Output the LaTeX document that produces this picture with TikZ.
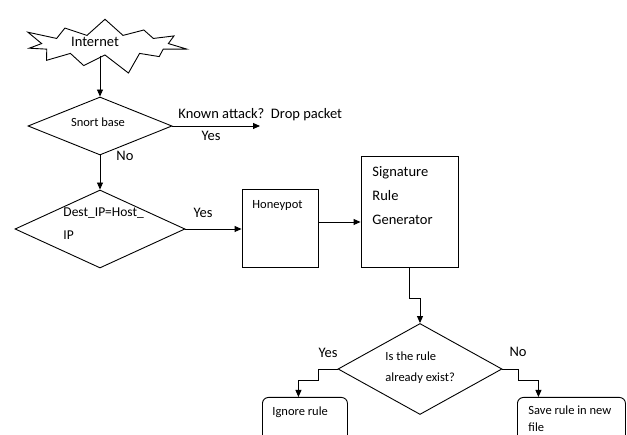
\documentclass[tikz,border=0pt]{standalone}
\usepackage{fontspec}
\setmainfont{Carlito}
\usetikzlibrary{shapes.geometric,shapes.symbols,arrows.meta}

\begin{document}
\begin{tikzpicture}[x=1pt,y=-1pt,line width=0.9pt,
  >={Triangle[length=7pt,width=6pt]},
  decision/.style={draw,diamond,inner sep=0pt},
  box/.style={draw,rectangle,inner sep=0pt},
  smalltxt/.style={inner sep=0pt,align=left,font=\fontsize{12.5}{22}\selectfont},
  bigtxt/.style={inner sep=0pt,align=left,font=\fontsize{14.5}{24}\selectfont}]
             \useasboundingbox (0,0) rectangle (627,435);
             \clip (0,0) rectangle (627,435);

             \node[draw,starburst,starburst points=11,starburst point height=22pt,
                   minimum width=172pt,minimum height=64pt,inner sep=0pt] (internet) at (105,45) {};
             \node[bigtxt] (internettxt) at (95,42) {Internet};

             \node[decision,minimum width=144pt,minimum height=58pt] (snort) at (100,126) {};
             \node[smalltxt] (snorttxt) at (98,122) {Snort base};
             \coordinate (drop) at (260,126);
             \node[bigtxt,anchor=west] (droptxt) at (178,115) {Known attack?\ \ Drop packet};
             \node[bigtxt] (yes1) at (211,136) {Yes};
             \node[bigtxt] (no1) at (125,156) {No};

             \node[decision,minimum width=170pt,minimum height=78pt] (dest) at (100,229) {};
             \node[smalltxt,anchor=west,font=\fontsize{13.5}{23}\selectfont] (desttxt) at (63,223.5) {Dest\_IP=Host\_\\IP};
             \node[bigtxt] (yes2) at (203,213) {Yes};

             \node[box,minimum width=76pt,minimum height=78pt] (honey) at (280,228) {};
             \node[smalltxt,anchor=west] (honeytxt) at (252,205) {Honeypot};

             \node[box,minimum width=97pt,minimum height=111pt] (sig) at (409.5,211.5) {};
             \node[bigtxt,anchor=west] (sigtxt) at (372,196) {Signature\\Rule\\Generator};

             \node[decision,minimum width=164pt,minimum height=91pt] (rule) at (420,369) {};
             \node[smalltxt,anchor=west,font=\fontsize{12.5}{21}\selectfont] (ruletxt) at (385,367.5) {Is the rule\\already exist?};
             \node[bigtxt] (yes3) at (328,353) {Yes};
             \node[bigtxt] (no3) at (518,352) {No};

             \node[box,rounded corners=6pt,minimum width=85pt,minimum height=80pt,anchor=north west] (ignore) at (262,397) {};
             \node[smalltxt,anchor=west] (ignoretxt) at (272,412) {Ignore rule};
             \node[box,rounded corners=6pt,minimum width=108pt,minimum height=80pt,anchor=north west] (save) at (517,397) {};
             \node[smalltxt,anchor=west,font=\fontsize{12.5}{17}\selectfont] (savetxt) at (528,418.5) {Save rule in new\\file};

             \draw[->] (snort.north |- internet.south) -- (snort.north);
             \draw[->] (snort.east) -- (drop);
             \draw[->] (snort.south) -- (dest.north);
             \draw[->] (dest.east) -- (honey.west |- dest.east);
             \coordinate (hp) at ([yshift=6pt]honey.east);
             \draw[->] (hp) -- (hp -| sig.west);
             \draw[->] (sig.south) -- ++(0,31) -| (rule.north);
             \draw[->] (rule.west) -- ++(-19,0) -- ++(0,11) -| ([xshift=-6.5pt]ignore.north);
             \draw[->] (rule.east) -- ++(16,0) -- ++(0,11) -| ([xshift=-33pt]save.north);
\end{tikzpicture}
\end{document}
